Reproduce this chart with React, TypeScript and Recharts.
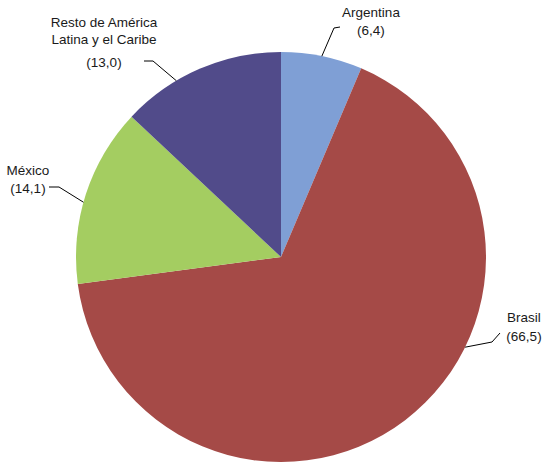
import React from 'react'
import { PieChart, Pie, Cell } from 'recharts'

const regions = ['Argentina', 'Brasil', 'México', 'Resto de América Latina y el Caribe']
const shares = [6.4, 66.5, 14.1, 13.0]
const shareLabels = ['(6,4)', '(66,5)', '(14,1)', '(13,0)']
const nameLines = [['Argentina'], ['Brasil'], ['México'], ['Resto de América', 'Latina y el Caribe']]

const COLORS = ['#7F9FD5', '#A54A47', '#A4CD61', '#514B8A']

// label placement relative to pie centre (Excel style manual positions)
const LABEL_LAYOUT = [
  { anchor: 78.5, pts: [[53, -229], [59, -230]], x: 90, ys: [-240, -222] },
  { anchor: -26.1, pts: [[211, 85], [219, 76]], x: 243, ys: [65, 84] },
  { anchor: 164.5, pts: [[-222, -70], [-232, -70]], x: -253, ys: [-82, -64] },
  { anchor: 120.7, pts: [[-128, -196], [-137, -196]], x: -177, ys: [-230, -213, -190] },
]

const data = regions.map((name, i) => ({ name, value: shares[i] }))

const RAD = Math.PI / 180

const renderLabel = (props: any) => {
  const { cx, cy, outerRadius, index } = props
  const cfg = LABEL_LAYOUT[index]
  const ax = cx + outerRadius * Math.cos(-cfg.anchor * RAD)
  const ay = cy + outerRadius * Math.sin(-cfg.anchor * RAD)
  const points = [[ax, ay], ...cfg.pts.map(([dx, dy]) => [cx + dx, cy + dy])]
  const lines = [...nameLines[index], shareLabels[index]]
  return (
    <g key={`lbl-${index}`}>
      <polyline
        points={points.map(p => p.join(',')).join(' ')}
        fill="none"
        stroke="#000"
        strokeWidth={1}
      />
      {lines.map((t, j) => (
        <text
          key={j}
          x={cx + cfg.x}
          y={cy + cfg.ys[j]}
          textAnchor="middle"
          fontSize={13.5}
          fontFamily="'Liberation Sans', Arial, sans-serif"
          fill="#1a1a1a"
        >
          {t}
        </text>
      ))}
    </g>
  )
}

export default function App() {
  return (
    <div style={{ position: 'fixed', left: 0, top: 0, width: 546, height: 462, background: '#fff' }}>
      <PieChart width={546} height={462} margin={{ top: 0, right: 0, bottom: 0, left: 0 }}>
        <Pie
          data={data}
          dataKey="value"
          nameKey="name"
          cx={281}
          cy={257}
          outerRadius={205}
          startAngle={90}
          endAngle={-270}
          stroke="none"
          label={renderLabel}
          labelLine={false}
          isAnimationActive={false}
        >
          {data.map((d, i) => (
            <Cell key={d.name} fill={COLORS[i]} />
          ))}
        </Pie>
      </PieChart>
    </div>
  )
}
